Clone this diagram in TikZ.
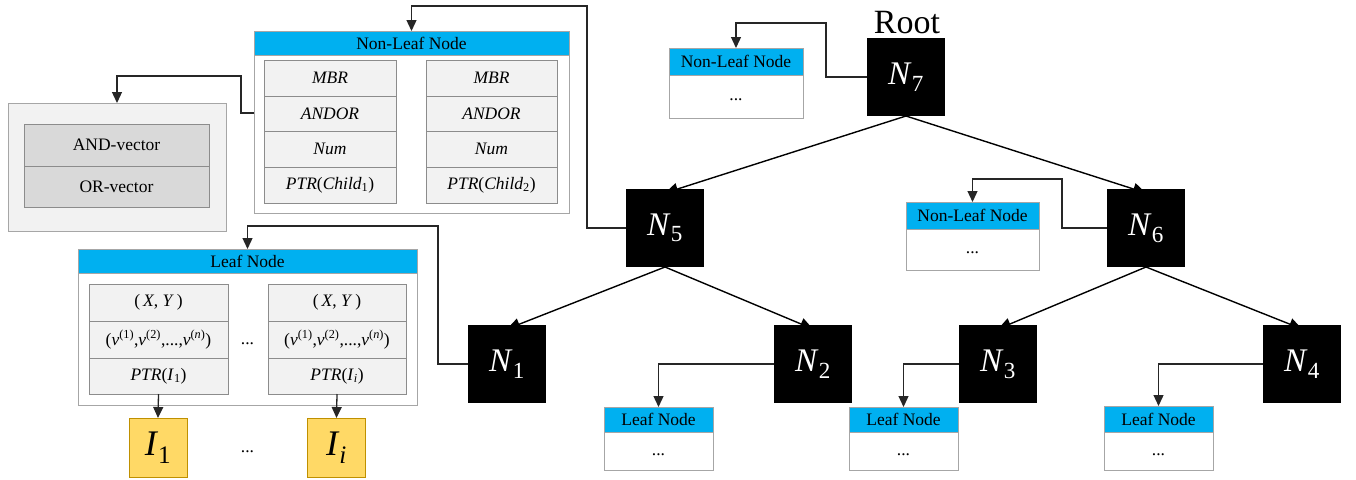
\documentclass[tikz,border=0pt]{standalone}
\usepackage{fontspec}
\setmainfont{Liberation Serif}
\usetikzlibrary{arrows.meta,calc}
\definecolor{hdrblue}{HTML}{00B0F0}
\definecolor{boxgray}{HTML}{A6A6A6}
\definecolor{cellgray}{HTML}{8C8C8C}
\definecolor{cellfill}{HTML}{F2F2F2}
\definecolor{vecfill}{HTML}{D9D9D9}
\definecolor{imgfill}{HTML}{FFD966}
\definecolor{imgborder}{HTML}{BF9000}
\definecolor{linecol}{HTML}{262626}
\begin{document}
\begin{tikzpicture}[x=1pt,y=-1pt,
  every node/.style={inner sep=0pt,outer sep=0pt,rectangle},
  txt/.style={font=\fontsize{17.5}{20}\selectfont},
  outerbox/.style={draw=boxgray,line width=0.9pt,fill=white},
  hdr/.style={draw=boxgray,line width=0.9pt,fill=hdrblue,txt},
  cell/.style={draw=cellgray,line width=0.8pt,fill=cellfill,txt},
  veccell/.style={draw=cellgray,line width=0.8pt,fill=vecfill,txt},
  tnode/.style={fill=black,minimum width=78,minimum height=78,text=white,font=\fontsize{33}{33}\selectfont},
  imgnode/.style={draw=imgborder,line width=0.9pt,fill=imgfill,minimum width=58,minimum height=59,font=\fontsize{36}{36}\selectfont},
  conn/.style={draw=linecol,line width=1.3pt,-{Triangle[length=11pt,width=10pt]}},
  treeline/.style={draw=black,line width=1.4pt,-{Triangle[length=13pt,width=12pt]}},
  dots/.style={txt}
]
\useasboundingbox (0,0) rectangle (1356,479);

% ---------- AND/OR box ----------
\node[draw=boxgray,line width=0.9pt,fill=cellfill,minimum width=218,minimum height=128] (andor) at (117,167) {};
\node[veccell,minimum width=185,minimum height=42] (andv) at (116.5,145) {AND-vector};
\node[veccell,minimum width=185,minimum height=41] (orv) at (116.5,186.5) {OR-vector};

% ---------- big Non-Leaf box ----------
\node[outerbox,minimum width=315,minimum height=182] (nlbig) at (411.5,122) {};
\node[hdr,minimum width=315,minimum height=24] (nlbigh) at (411.5,43) {Non-Leaf Node};
\node[cell,minimum width=132,minimum height=36] (a1) at (330,78) {\textit{MBR}};
\node[cell,minimum width=132,minimum height=35] (a2) at (330,113.5) {\textit{ANDOR}};
\node[cell,minimum width=132,minimum height=36] (a3) at (330,149) {\textit{Num}};
\node[cell,minimum width=132,minimum height=36] (a4) at (330,185) {\textit{PTR}(\textit{Child}\textsubscript{1})};
\node[cell,minimum width=131,minimum height=36] (b1) at (491.5,78) {\textit{MBR}};
\node[cell,minimum width=131,minimum height=35] (b2) at (491.5,113.5) {\textit{ANDOR}};
\node[cell,minimum width=131,minimum height=36] (b3) at (491.5,149) {\textit{Num}};
\node[cell,minimum width=131,minimum height=36] (b4) at (491.5,185) {\textit{PTR}(\textit{Child}\textsubscript{2})};

% ---------- big Leaf box ----------
\node[outerbox,minimum width=339,minimum height=156] (lfbig) at (247.5,327) {};
\node[hdr,minimum width=339,minimum height=24] (lfbigh) at (247.5,261) {Leaf Node};
\node[cell,minimum width=139,minimum height=37] (l1) at (158.5,302.5) {(\,\textit{X}, \textit{Y}\,)};
\node[cell,minimum width=139,minimum height=37] (l2) at (158.5,339.5) {(\textit{v}\textsuperscript{(1)},\textit{v}\textsuperscript{(2)},...,\textit{v}\textsuperscript{(\textit{n})})};
\node[cell,minimum width=139,minimum height=36] (l3) at (158.5,376) {\textit{PTR}(\textit{I}\textsubscript{1})};
\node[cell,minimum width=138,minimum height=37] (r1) at (337,302.5) {(\,\textit{X}, \textit{Y}\,)};
\node[cell,minimum width=138,minimum height=37] (r2) at (337,339.5) {(\textit{v}\textsuperscript{(1)},\textit{v}\textsuperscript{(2)},...,\textit{v}\textsuperscript{(\textit{n})})};
\node[cell,minimum width=138,minimum height=36] (r3) at (337,376) {\textit{PTR}(\textit{I}\textsubscript{\textit{i}})};
\node[dots] (ldots) at (247.5,344) {...};

\node[imgnode] (I1) at (158,447.5) {\textit{I}\textsubscript{1}};
\node[imgnode] (Ii) at (336.5,447.5) {\textit{I}\textsubscript{\textit{i}}};
\node[dots] (idots) at (247.5,452) {...};

% ---------- tree nodes ----------
\node[tnode] (N7) at (906,77) {\textit{N}\textsubscript{7}};
\node[font=\fontsize{34}{34}\selectfont,anchor=base] (root) at (907,33) {Root};
\node[tnode] (N5) at (665,228) {\textit{N}\textsubscript{5}};
\node[tnode] (N6) at (1146,228) {\textit{N}\textsubscript{6}};
\node[tnode] (N1) at (507,364) {\textit{N}\textsubscript{1}};
\node[tnode] (N2) at (813,364) {\textit{N}\textsubscript{2}};
\node[tnode] (N3) at (998,364) {\textit{N}\textsubscript{3}};
\node[tnode] (N4) at (1302,364) {\textit{N}\textsubscript{4}};

% ---------- small boxes ----------
\node[outerbox,minimum width=134,minimum height=70] (nlr) at (736,83) {};
\node[hdr,minimum width=134,minimum height=27] (nlrh) at (736,61.5) {Non-Leaf Node};
\node[dots] (nlrd) at (736,100) {...};

\node[outerbox,minimum width=133,minimum height=68] (nl6) at (972.5,236) {};
\node[hdr,minimum width=133,minimum height=27] (nl6h) at (972.5,215.5) {Non-Leaf Node};
\node[dots] (nl6d) at (972.5,253) {...};

\node[outerbox,minimum width=109,minimum height=63] (lf2) at (658.5,438.5) {};
\node[hdr,minimum width=109,minimum height=25] (lf2h) at (658.5,419.5) {Leaf Node};
\node[dots] (lf2d) at (658.5,455) {...};

\node[outerbox,minimum width=109,minimum height=63] (lf3) at (903.5,438.5) {};
\node[hdr,minimum width=109,minimum height=25] (lf3h) at (903.5,419.5) {Leaf Node};
\node[dots] (lf3d) at (903.5,455) {...};

\node[outerbox,minimum width=109,minimum height=64] (lf4) at (1158.5,438) {};
\node[hdr,minimum width=109,minimum height=26] (lf4h) at (1158.5,419) {Leaf Node};
\node[dots] (lf4d) at (1158.5,455) {...};

% ---------- tree edges ----------
\draw[treeline] (N7.south) -- ([yshift=-4pt]N5.north);
\draw[treeline] (N7.south) -- ([yshift=-4pt]N6.north);
\draw[treeline] (N5.south) -- ([yshift=-4pt]N1.north);
\draw[treeline] (N5.south) -- ([yshift=-4pt]N2.north);
\draw[treeline] (N6.south) -- ([yshift=-4pt]N3.north);
\draw[treeline] (N6.south) -- ([yshift=-4pt]N4.north);

% ---------- elbow connectors ----------
\draw[conn] (N7.west) -| (826,23) -| (nlr.north);
\draw[conn] (N6.west) -| (1062,179) -| (nl6.north);
\draw[conn] (N2.west) -| (lf2.north);
\draw[conn] (N3.west) -| (lf3.north);
\draw[conn] (N4.west) -| (lf4.north);
\draw[conn] (N1.west) -| (438,226) -| (lfbig.north);
\draw[conn] (N5.west) -| (587,6) -| (nlbig.north);
\draw[conn] (nlbig.west |- 0,113) -| (241,76) -| (andor.north);
\draw[conn] (l3.south) -- (I1.north);
\draw[conn] (r3.south) -- (Ii.north);
\end{tikzpicture}
\end{document}
